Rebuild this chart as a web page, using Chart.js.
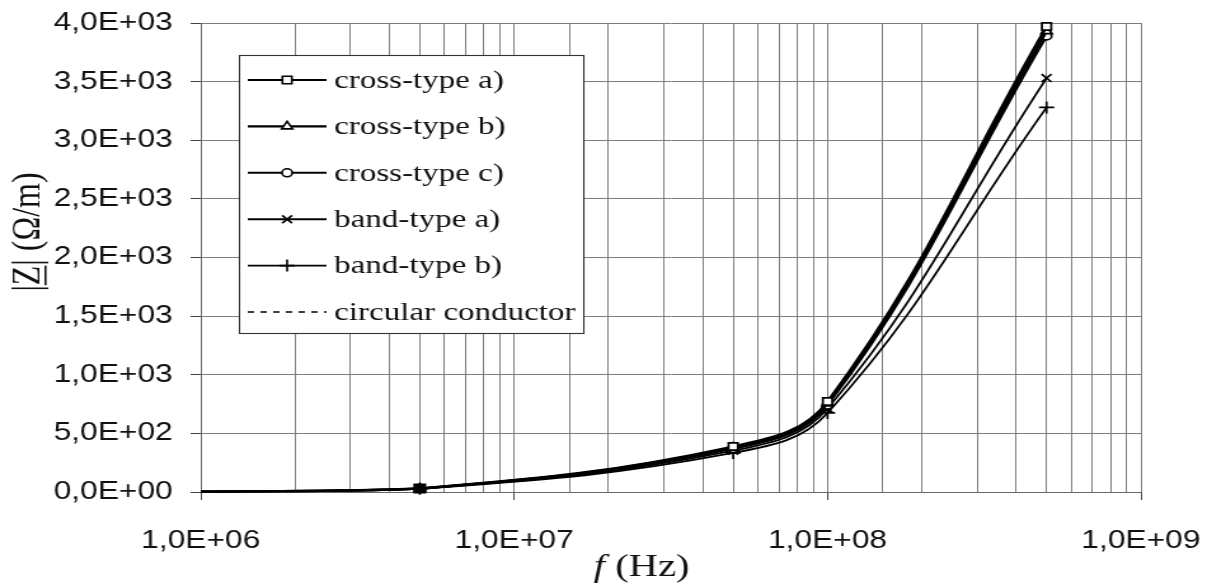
<!DOCTYPE html>
<html><head><meta charset="utf-8">
<script src="https://cdn.jsdelivr.net/npm/chart.js@4.4.0/dist/chart.umd.min.js"></script>
<style>
html,body{margin:0;padding:0;background:#fff;overflow:hidden;width:1207px;height:586px}
#wrap{position:absolute;left:0;top:0;width:950px;height:586px;transform:scaleX(1.2705);transform-origin:0 0}
</style></head><body>
<div id="wrap"><canvas id="c"></canvas></div>
<script>
// ---- data ----
const frequencies       = [1e6, 5e6, 5e7, 1e8, 5e8];
const crossTypeA        = [3, 30, 388, 772, 3970];
const crossTypeB        = [3, 29, 378, 755, 3930];
const crossTypeC        = [3, 29, 370, 742, 3890];
const bandTypeA         = [3, 28, 352, 712, 3530];
const bandTypeB         = [3, 27, 333, 674, 3280];
const circularConductor = [3, 30, 384, 765, 3955];
const seriesNames = ['cross-type a)', 'cross-type b)', 'cross-type c)', 'band-type a)', 'band-type b)', 'circular conductor'];
const xTickValues = [1e6, 1e7, 1e8, 1e9];
const xTickLabels = ['1,0E+06', '1,0E+07', '1,0E+08', '1,0E+09'];
const yTickValues = [0, 500, 1000, 1500, 2000, 2500, 3000, 3500, 4000];
const yTickLabels = ['0,0E+00', '5,0E+02', '1,0E+03', '1,5E+03', '2,0E+03', '2,5E+03', '3,0E+03', '3,5E+03', '4,0E+03'];
const xTitle = ['f', ' (Hz)'];
const yTitle = ['|', 'Z', '| (Ω/m)'];

// ---- styles ----
const seriesValues = [crossTypeA, crossTypeB, crossTypeC, bandTypeA, bandTypeB, circularConductor];
const pointStyles = ['rect', 'triangle', 'circle', 'crossRot', 'cross', false];
const pointRadii = [5.2, 5, 4, 5.5, 6, 0];
const PLOT_LEFT = 158, PLOT_TOP = 23, PLOT_BOTTOM = 492, RIGHT_PAD = 52;
const GRID = '#7e7e7e';

const datasets = seriesValues.map((vals, s) => ({
  label: seriesNames[s],
  data: frequencies.map((f, i) => ({x: f, y: vals[i]})),
  borderColor: '#000',
  borderWidth: s === 5 ? 1.3 : (s < 3 ? 2.3 : 1.8),
  borderDash: s === 5 ? [5, 5] : [],
  pointStyle: pointStyles[s] || 'circle',
  pointRadius: frequencies.map((f, i) => (i === 0 ? 0 : (i === 1 && s === 0 ? 6 : pointRadii[s]))),
  pointBackgroundColor: frequencies.map((f, i) => (i === 1 ? '#000' : '#fff')),
  pointBorderColor: '#000',
  pointBorderWidth: 1.7,
  tension: 0.4,
  clip: false,
  fill: false
}));

function drawMarker(ctx, style, r, x, y) {
  ctx.save();
  ctx.fillStyle = '#fff'; ctx.strokeStyle = '#000'; ctx.lineWidth = 1.6;
  ctx.beginPath();
  if (style === 'rect') { const h = r * Math.SQRT1_2; ctx.rect(x - h, y - h, 2 * h, 2 * h); ctx.fill(); ctx.stroke(); }
  else if (style === 'circle') { ctx.arc(x, y, r, 0, Math.PI * 2); ctx.fill(); ctx.stroke(); }
  else if (style === 'triangle') {
    ctx.moveTo(x, y - r); ctx.lineTo(x + r * 0.866, y + r * 0.5); ctx.lineTo(x - r * 0.866, y + r * 0.5); ctx.closePath(); ctx.fill(); ctx.stroke();
  } else if (style === 'crossRot') {
    const h = r * Math.SQRT1_2; ctx.moveTo(x - h, y - h); ctx.lineTo(x + h, y + h); ctx.moveTo(x - h, y + h); ctx.lineTo(x + h, y - h); ctx.stroke();
  } else if (style === 'cross') {
    ctx.moveTo(x, y - r); ctx.lineTo(x, y + r); ctx.moveTo(x - r, y); ctx.lineTo(x + r, y); ctx.stroke();
  }
  ctx.restore();
}

const overlay = {
  id: 'overlay',
  afterDraw(chart) {
    const ctx = chart.ctx;
    // legend box
    const bx = 188, by = 55, bw = 271, bh = 278;
    ctx.save();
    ctx.fillStyle = '#fff'; ctx.fillRect(bx, by, bw, bh);
    ctx.strokeStyle = '#333'; ctx.lineWidth = 1.1; ctx.strokeRect(bx + 0.5, by + 0.5, bw, bh);
    ctx.font = '26px "Liberation Serif", "Times New Roman", serif';
    ctx.textBaseline = 'middle'; ctx.textAlign = 'left'; ctx.fillStyle = '#111';
    seriesNames.forEach((name, i) => {
      const y = 80 + i * 46.4;
      ctx.save();
      ctx.strokeStyle = '#000';
      if (i === 5) { ctx.lineWidth = 1.3; ctx.setLineDash([5, 5]); } else { ctx.lineWidth = i < 3 ? 2.1 : 1.9; }
      ctx.beginPath(); ctx.moveTo(195, y); ctx.lineTo(257, y); ctx.stroke();
      ctx.restore();
      if (pointStyles[i]) drawMarker(ctx, pointStyles[i], pointRadii[i], 226, y);
      ctx.fillText(name, 263, y + 1);
    });
    // x title
    ctx.font = 'italic 32px "Liberation Serif", "Times New Roman", serif';
    const wf = ctx.measureText(xTitle[0]).width;
    ctx.font = '32px "Liberation Serif", "Times New Roman", serif';
    const wr = ctx.measureText(xTitle[1]).width;
    let x0 = 505 - (wf + wr) / 2;
    ctx.textBaseline = 'middle';
    ctx.font = 'italic 32px "Liberation Serif", "Times New Roman", serif';
    ctx.fillText(xTitle[0], x0, 568);
    ctx.font = '32px "Liberation Serif", "Times New Roman", serif';
    ctx.fillText(xTitle[1], x0 + wf, 568);
    // y title (rotated, Z underlined)
    ctx.translate(23, 232);
    ctx.rotate(-Math.PI / 2);
    const widths = yTitle.map(t => ctx.measureText(t).width);
    const total = widths.reduce((a, b) => a + b, 0);
    let px = -total / 2;
    yTitle.forEach((t, i) => {
      ctx.fillText(t, px, 0);
      if (t === 'Z') {
        ctx.fillRect(px, 12, widths[i], 1.6);
      }
      px += widths[i];
    });
    ctx.restore();
  }
};

const isDecade = v => xTickValues.some(d => Math.abs(v - d) / d < 1e-6);

new Chart(document.getElementById('c'), {
  type: 'line',
  data: { datasets },
  options: {
    responsive: true,
    maintainAspectRatio: false,
    animation: false,
    layout: { padding: { top: PLOT_TOP, right: RIGHT_PAD, left: 0, bottom: 0 } },
    plugins: { legend: { display: false }, tooltip: { enabled: false } },
    scales: {
      x: {
        type: 'logarithmic',
        min: 1e6, max: 1e9,
        afterFit(scale) { scale.height = 586 - PLOT_BOTTOM; scale.paddingLeft = 0; scale.paddingRight = 0; },
        grid: {
          color: GRID, lineWidth: 1,
          tickLength: 8,
          tickColor: c => (c.tick && isDecade(c.tick.value)) ? '#444' : 'rgba(0,0,0,0)'
        },
        border: { display: true, color: '#666', width: 1 },
        ticks: {
          autoSkip: false, maxRotation: 0, padding: 26,
          color: '#111',
          font: { family: '"Liberation Sans", Arial, sans-serif', size: 25 },
          callback: v => { const k = xTickValues.findIndex(d => Math.abs(v - d) / d < 1e-6); return k >= 0 ? xTickLabels[k] : ''; }
        }
      },
      y: {
        type: 'linear',
        min: 0, max: 4000,
        afterFit(scale) { scale.width = PLOT_LEFT; scale.paddingTop = 0; scale.paddingBottom = 0; },
        afterBuildTicks(scale) { scale.ticks = yTickValues.map(v => ({ value: v })); },
        grid: { color: GRID, lineWidth: 1, tickLength: 8, tickColor: '#444' },
        border: { display: true, color: '#666', width: 1 },
        ticks: {
          padding: 14, color: '#111',
          font: { family: '"Liberation Sans", Arial, sans-serif', size: 25 },
          callback: (v) => { const k = yTickValues.indexOf(v); return k >= 0 ? yTickLabels[k] : ''; }
        }
      }
    }
  },
  plugins: [overlay]
});
</script>
</body></html>
